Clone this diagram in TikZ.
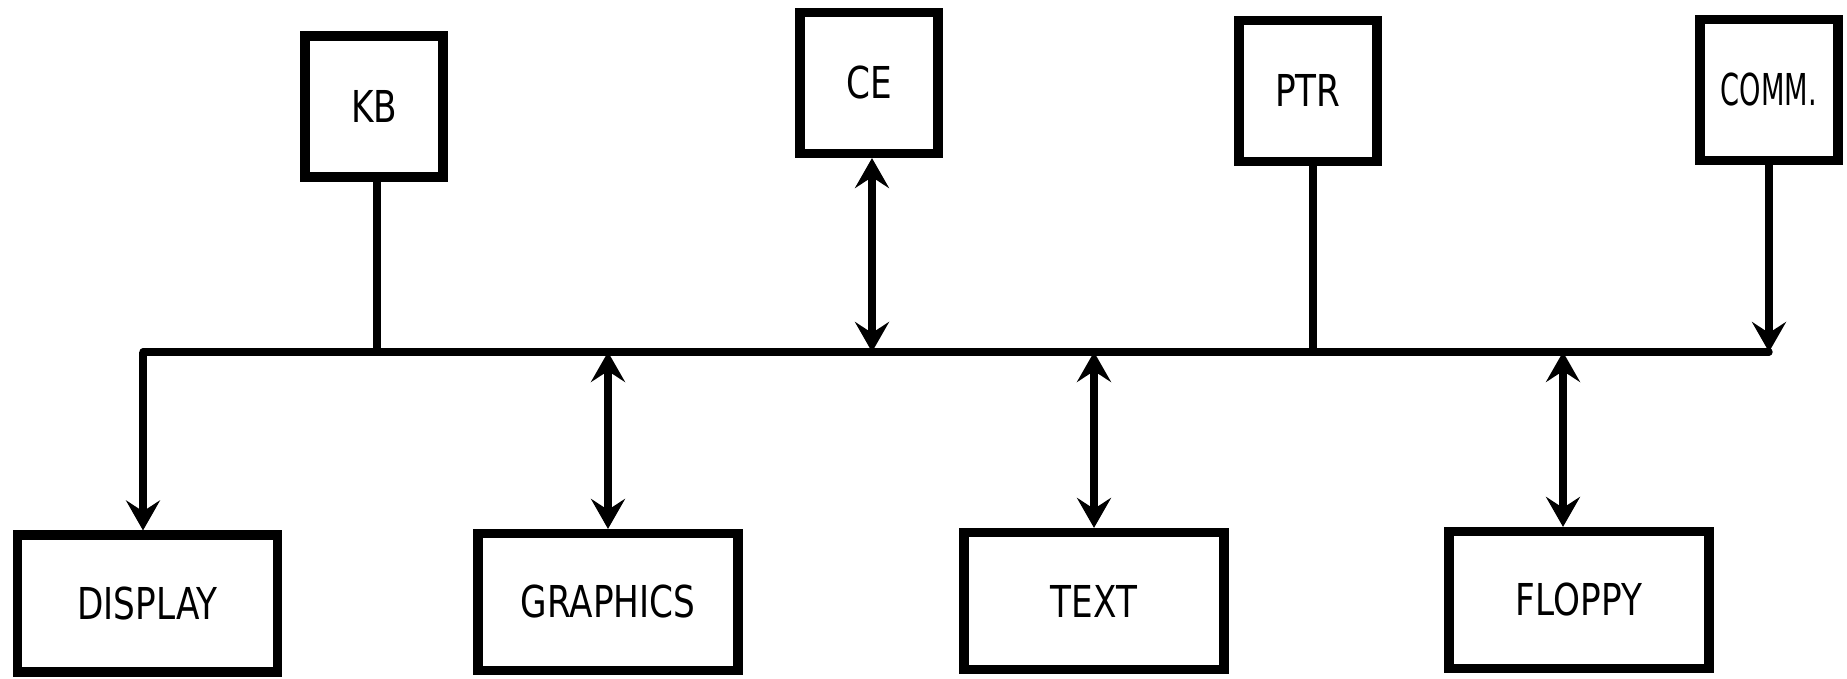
\documentclass[tikz,border=0pt]{standalone}
\usepackage{fontspec}
\setmainfont[FakeStretch=0.78]{DejaVu Sans}
\newfontfamily\narrowfont[FakeStretch=0.62]{DejaVu Sans}
\usepackage{tikz}
\usetikzlibrary{arrows.meta}

\begin{document}
\begin{tikzpicture}[scale = 1,every node/.style={draw, line width = 2.6pt, font=\fontsize{12.5}{14}\selectfont},topbox/.style={minimum width = 1.38cm, minimum height = 1.41cm},lowbox/.style={minimum width = 2.60cm, minimum height = 1.37cm},link/.style={line width = 2.1pt},>={Stealth[length=3mm,width=3.4mm,inset=1.1mm]}]
	
	\useasboundingbox (0,0) rectangle (18.47,6.79);
	
	% units on top
	\node[topbox] (KB) at (3.74,5.725) {KB};
	\node[topbox] (CE) at (8.69,5.96) {CE};
	\node[topbox] (PTR) at (13.08,5.88) {PTR};
	\node[topbox, inner sep = 1pt] (COMM) at (17.69,5.89) {\narrowfont COMM.};
	
	% units below
	\node[lowbox] (DISPLAY) at (1.475,0.755) {DISPLAY};
	\node[lowbox] (GRAPHICS) at (6.08,0.77) {GRAPHICS};
	\node[lowbox] (TEXT) at (10.94,0.78) {TEXT};
	\node[lowbox] (FLOPPY) at (15.79,0.79) {FLOPPY};
	
	% the bus
	\coordinate (busL) at (1.43,3.27);
	\coordinate (busR) at (COMM.south |- busL);
	\draw[link, line cap = round] (busL) -- (busR);
	
	\draw[link] ([xshift=0.3mm]KB.south) -- ([xshift=0.3mm]KB.south |- busL);
	\draw[link, <->] ([xshift=0.3mm]CE.south) -- ([xshift=0.3mm]CE.south |- busL);
	\draw[link] ([xshift=0.5mm]PTR.south) -- ([xshift=0.5mm]PTR.south |- busL);
	\draw[link, ->] (COMM.south) -- (busR);
	
	\draw[link, ->] (busL) -- (busL |- DISPLAY.north);
	\draw[link, <->] (GRAPHICS.north |- busL) -- (GRAPHICS.north);
	\draw[link, <->] (TEXT.north |- busL) -- (TEXT.north);
	\draw[link, <->] ([xshift=-1.6mm]FLOPPY.north |- busL) -- ([xshift=-1.6mm]FLOPPY.north);
	
\end{tikzpicture}
\end{document}
